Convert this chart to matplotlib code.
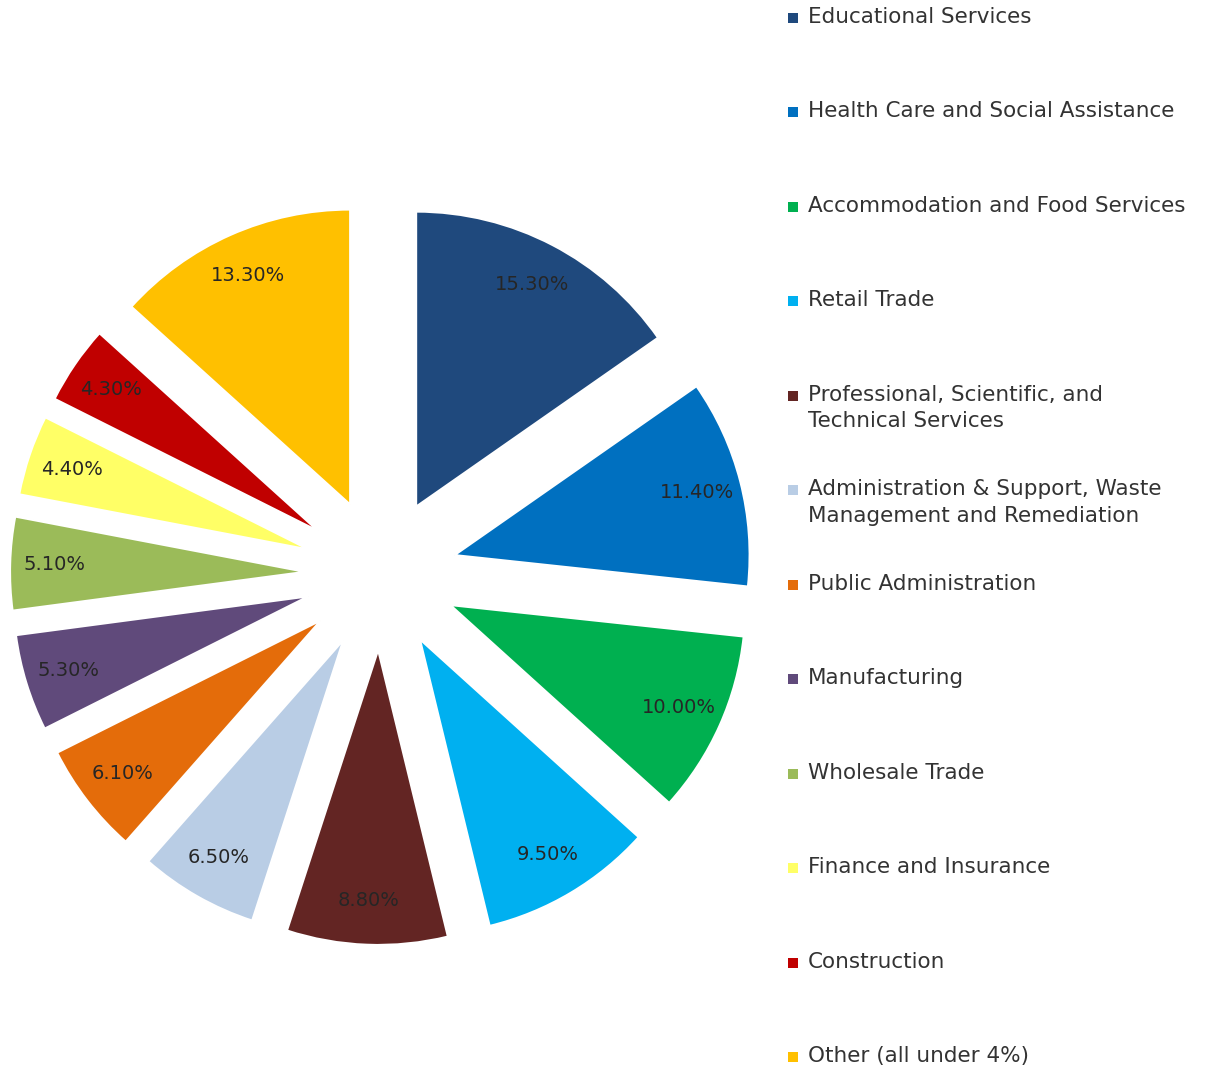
import matplotlib
matplotlib.use('Agg')
import matplotlib.pyplot as plt
from matplotlib.patches import Rectangle
import numpy as np

categories = ['Educational Services', 'Health Care and Social Assistance',
              'Accommodation and Food Services', 'Retail Trade',
              'Professional, Scientific, and\nTechnical Services',
              'Administration & Support, Waste\nManagement and Remediation',
              'Public Administration', 'Manufacturing', 'Wholesale Trade',
              'Finance and Insurance', 'Construction', 'Other (all under 4%)']
shares = [15.3, 11.4, 10.0, 9.5, 8.8, 6.5, 6.1, 5.3, 5.1, 4.4, 4.3, 13.3]
colors = ['#1F497D', '#0070C0', '#00B050', '#00B0F0', '#632523', '#B9CDE5',
          '#E46C0A', '#604A7B', '#9BBB59', '#FFFF66', '#C00000', '#FFC000']

W, H = 1210, 1073
fig = plt.figure(figsize=(W / 100, H / 100), dpi=100)
ax = fig.add_axes([0, 0, 1, 1])

radius = 295
offset = 76          # explode distance, in the same (pixel) units as radius
cx, cy = 381, H - 574

ax.pie(shares, colors=colors, startangle=90, counterclock=False,
       center=(cx, cy), radius=radius,
       explode=[offset] * len(shares),
       wedgeprops=dict(edgecolor='white', linewidth=1.5),
       frame=True)
ax.set_xlim(0, W)
ax.set_ylim(0, H)
ax.set_aspect('equal')
ax.axis('off')

# percentage labels inside each exploded slice
ang = 90
for v in shares:
    sweep = v / 100 * 360
    mid = np.deg2rad(ang - sweep / 2)
    ang -= sweep
    d = offset + radius * 0.85
    ax.text(cx + d * np.cos(mid), cy + d * np.sin(mid), f'{v:.2f}%',
            ha='center', va='center', fontsize=14, color='#262626')

# legend drawn by hand so the two-line entries line up like the original
for i, (lab, col) in enumerate(zip(categories, colors)):
    yc = 18 + i * 94.45
    ax.add_patch(Rectangle((788, H - yc - 5), 10, 10, color=col, lw=0))
    ax.text(808, H - yc + 11, lab, ha='left', va='top', fontsize=15.5,
            color='#333333', linespacing=1.4)

fig.savefig('out.png', dpi=100, facecolor='white')
